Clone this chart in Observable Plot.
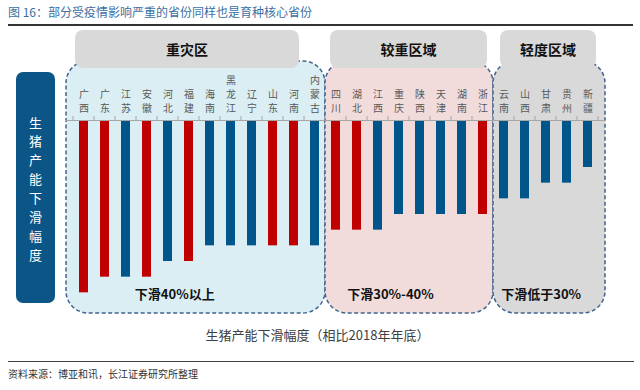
<!DOCTYPE html>
<html><head><meta charset="utf-8">
<script src="https://cdn.jsdelivr.net/npm/d3@7"></script>
<script src="https://cdn.jsdelivr.net/npm/@observablehq/plot@0.6"></script>
<style>
body{margin:0;width:640px;height:390px;position:relative;font-family:"Noto Sans CJK SC","Noto Sans",sans-serif;background:#fff;overflow:hidden}
#title{position:absolute;left:8px;top:4px;font-size:12px;line-height:16px;color:#3B6FA3;white-space:nowrap}
#tline{position:absolute;left:8px;top:24px;width:625px;height:0;border-top:2px solid #333}
#chart{position:absolute;left:0;top:28px}
#caption{position:absolute;left:0;width:635px;top:326px;text-align:center;font-size:13px;line-height:18px;color:#404040}
#fline{position:absolute;left:8px;top:361px;width:626px;height:0;border-top:1.5px solid #404040}
#source{position:absolute;left:8px;top:367px;font-size:10px;line-height:14px;color:#333}
</style></head>
<body>
<div id="title">图 16：部分受疫情影响严重的省份同样也是育种核心省份</div>
<div id="tline"></div>
<div id="chart"></div>
<div id="caption">生猪产能下滑幅度（相比2018年年底）</div>
<div id="fline"></div>
<div id="source">资料来源：博亚和讯，长江证券研究所整理</div>
<script>
// ---- data ----
const provinces = ["广西","广东","江苏","安徽","河北","福建","海南","黑龙江","辽宁","山东","河南","内蒙古",
  "四川","湖北","江西","重庆","陕西","天津","湖南","浙江","云南","山西","甘肃","贵州","新疆"];
const declines = [55,50,50,50,45,45,40,40,40,40,40,40,35,35,35,30,30,30,30,30,25,25,20,20,15];
const redProvinces = ["广西","广东","安徽","福建","山东","河南","四川","湖北","浙江"];
const zoneNames = ["重灾区","较重区域","轻度区域"];
const zoneLabels = ["下滑40%以上","下滑30%-40%","下滑低于30%"];
const zoneFirst = ["广西","四川","云南"];
const zoneLast = ["内蒙古","浙江","新疆"];
const sideLabel = "生猪产能下滑幅度";

// ---- styles / layout ----
const zoneFills = ["#DAEEF3","#F2DCDB","#D9D9D9"];
const headerInsets = [[9,26],[5,6],[7,9]];
const labelFrac = [0.42,0.39,0.43];
const RED = "#C00000", BLUE = "#00558A";
const FONT = '"Noto Sans CJK SC","Noto Sans",sans-serif';

const redSet = new Set(redProvinces);
const data = provinces.map((p,i)=>({province:p, decline:declines[i], red:redSet.has(p)}));

const plot = Plot.plot({
  width:640, height:300,
  marginLeft:65, marginRight:34, marginTop:92, marginBottom:20,
  style:{fontFamily:FONT, background:"transparent", overflow:"visible"},
  x:{domain:provinces, paddingInner:0.57, paddingOuter:0.285, axis:null},
  y:{domain:[0,60], reverse:true, axis:null},
  marks:[
    Plot.barY(data.filter(d=>d.red), {x:"province", y:"decline", fill:RED}),
    Plot.barY(data.filter(d=>!d.red), {x:"province", y:"decline", fill:BLUE}),
    Plot.ruleY([0], {stroke:"#A6A6A6", strokeWidth:1}),
    Plot.text(data, {x:"province", y:d=>0, text:d=>d.province.split("").join("\n"),
      lineAnchor:"bottom", dy:-9, fontSize:10, lineHeight:1.4, fill:"#595959"})
  ]
});
document.getElementById("chart").appendChild(plot);

// ---- decorations computed from the scales ----
const sx = plot.scale("x"), sy = plot.scale("y");
const idx = p => provinces.indexOf(p);
const step = sx.apply(provinces[1]) - sx.apply(provinces[0]);
const bw = sx.bandwidth ?? step*(1-0.57);
const boundary = k => (k < provinces.length ? sx.apply(provinces[k]) : sx.apply(provinces[k-1]) + step) + bw/2 - step/2;
const y0 = sy.apply(0);

const svg = d3.select(plot);
const bg = svg.insert("g", "g");

// side label box
bg.append("rect").attr("x",16).attr("y",y0-48).attr("width",39).attr("height",231)
  .attr("rx",7).attr("fill","#0B5587");
sideLabel.split("").forEach((c,i)=>{
  bg.append("text").attr("x",35.5).attr("y",y0+3+i*18.9).attr("dy","0.35em")
    .attr("text-anchor","middle").attr("font-size",13).attr("fill","#fff")
    .attr("font-family",FONT).text(c);
});

const zones = zoneNames.map((n,i)=>{
  const a = idx(zoneFirst[i]), b = idx(zoneLast[i]);
  let left = boundary(a), right = boundary(b+1);
  if (i===0) left -= 7;
  if (i===zoneNames.length-1) right += 7;
  return {name:n, label:zoneLabels[i], left, right, i};
});

zones.forEach(z=>{
  bg.append("rect").attr("x",z.left).attr("y",y0-59).attr("width",z.right-z.left).attr("height",252)
    .attr("rx",22).attr("fill",zoneFills[z.i]).attr("stroke","#41638F")
    .attr("stroke-width",1.5).attr("stroke-dasharray","4,2.5");
});
zones.forEach(z=>{
  const hl = z.left + headerInsets[z.i][0], hr = z.right - headerInsets[z.i][1];
  bg.append("rect").attr("x",hl).attr("y",y0-90).attr("width",hr-hl).attr("height",38)
    .attr("rx",8).attr("fill","#D9D9D9");
  bg.append("text").attr("x",(hl+hr)/2).attr("y",y0-70).attr("dy","0.35em")
    .attr("text-anchor","middle").attr("font-size",14).attr("font-weight","bold")
    .attr("fill","#111").attr("font-family",FONT).text(z.name);
  bg.append("text").attr("x",z.left + labelFrac[z.i]*(z.right-z.left)).attr("y",y0+174).attr("dy","0.35em")
    .attr("text-anchor","middle").attr("font-size",13).attr("font-weight","bold")
    .attr("fill","#111").attr("font-family",FONT).text(z.label);
});

// category boundary ticks on the baseline
const tg = svg.append("g");
for (let k=0;k<=provinces.length;k++){
  const x = boundary(k);
  tg.append("line").attr("x1",x).attr("x2",x).attr("y1",y0-4).attr("y2",y0)
    .attr("stroke","#A6A6A6").attr("stroke-width",1);
}
</script>
</body></html>
